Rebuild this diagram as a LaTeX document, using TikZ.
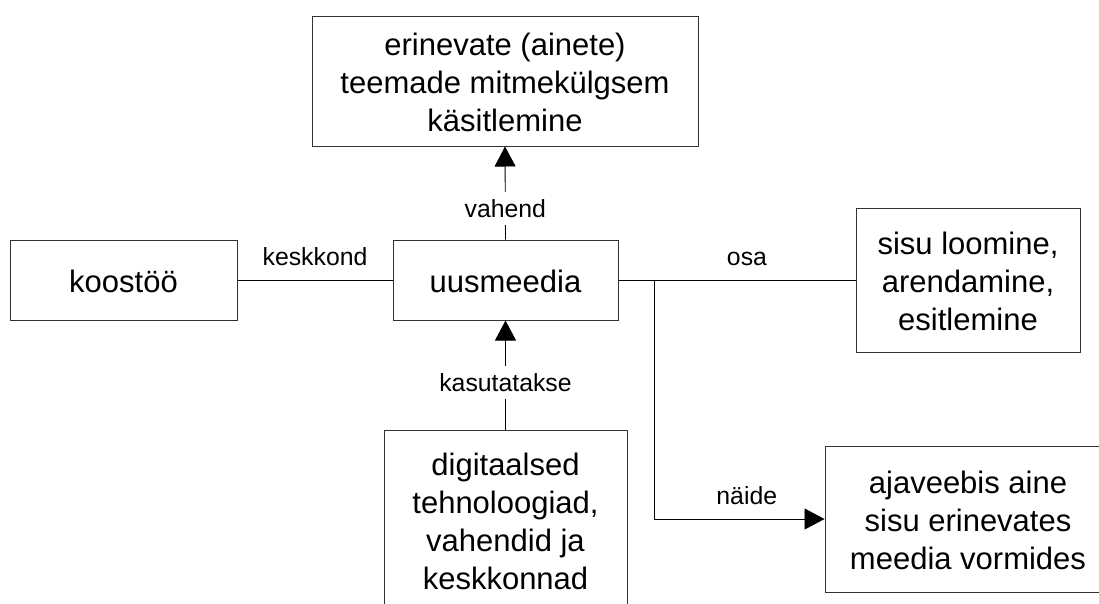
\documentclass[tikz,border=0pt]{standalone}
\usepackage{fontspec}
\setmainfont{Liberation Sans}
\usetikzlibrary{arrows.meta}
% strut giving every box line the same height and depth
\newcommand\boxstrut{\rule[-7pt]{0pt}{38pt}}
\begin{document}
\begin{tikzpicture}[x=1pt,y=-1pt,
  box/.style={draw=black!80, line width=1pt, inner sep=0pt, align=center,
    font=\fontsize{31}{38}\selectfont},
  conn/.style={line width=0.9pt, draw=black},
  tip/.style={-{Triangle[length=20pt,width=21pt]}},
  lbl/.style={font=\fontsize{24.8}{29}\selectfont, inner sep=0pt},
  gaplbl/.style={lbl, fill=white, inner xsep=3pt, inner ysep=8pt,
    text height=17.5pt, text depth=0pt}
]
\path[clip] (0,0) rectangle (1099,603);
\fill[white] (0,0) rectangle (1099,603);

% boxes
\node[box, minimum width=386pt, minimum height=130pt] (goal) at (505,81)
  {\boxstrut erinevate (ainete)\\\boxstrut teemade mitmekülgsem\\\boxstrut käsitlemine};
\node[box, minimum width=225pt, minimum height=80pt] (uus) at (505.5,280)
  {\boxstrut uusmeedia};
\node[box, minimum width=227pt, minimum height=80pt] (koos) at (123.5,280)
  {\boxstrut koostöö};
\node[box, minimum width=224pt, minimum height=144pt] (sisu) at (968,280)
  {\boxstrut sisu loomine,\\\boxstrut arendamine,\\\boxstrut esitlemine};
\node[box, minimum width=286pt, minimum height=146pt] (blog) at (968,519)
  {\boxstrut ajaveebis aine\\\boxstrut sisu erinevates\\\boxstrut meedia vormides};
\node[box, minimum width=243pt, minimum height=181pt] (digi) at (505.5,520.5)
  {\boxstrut digitaalsed\\\boxstrut tehnoloogiad,\\\boxstrut vahendid ja\\\boxstrut keskkonnad};

% junction where the example branch leaves the main line
\coordinate (j) at (654,280);

% connectors
\draw[conn] (koos.east) -- node[lbl, anchor=base, yshift=15pt] {keskkond} (uus.west);
\draw[conn] (uus.east) -- node[lbl, pos=0.542, anchor=base, yshift=15pt] {osa} (sisu.west);
\draw[conn, tip] (uus.east) -- (j) |- node[lbl, pos=0.772, anchor=base, yshift=15pt] {näide} (blog.west);
\draw[conn, tip] (uus.north) -- node[gaplbl, pos=0.335] {vahend} (goal.south);
\draw[conn, tip] (digi.north) -- node[gaplbl, pos=0.43] {kasutatakse} (uus.south);
\end{tikzpicture}
\end{document}
